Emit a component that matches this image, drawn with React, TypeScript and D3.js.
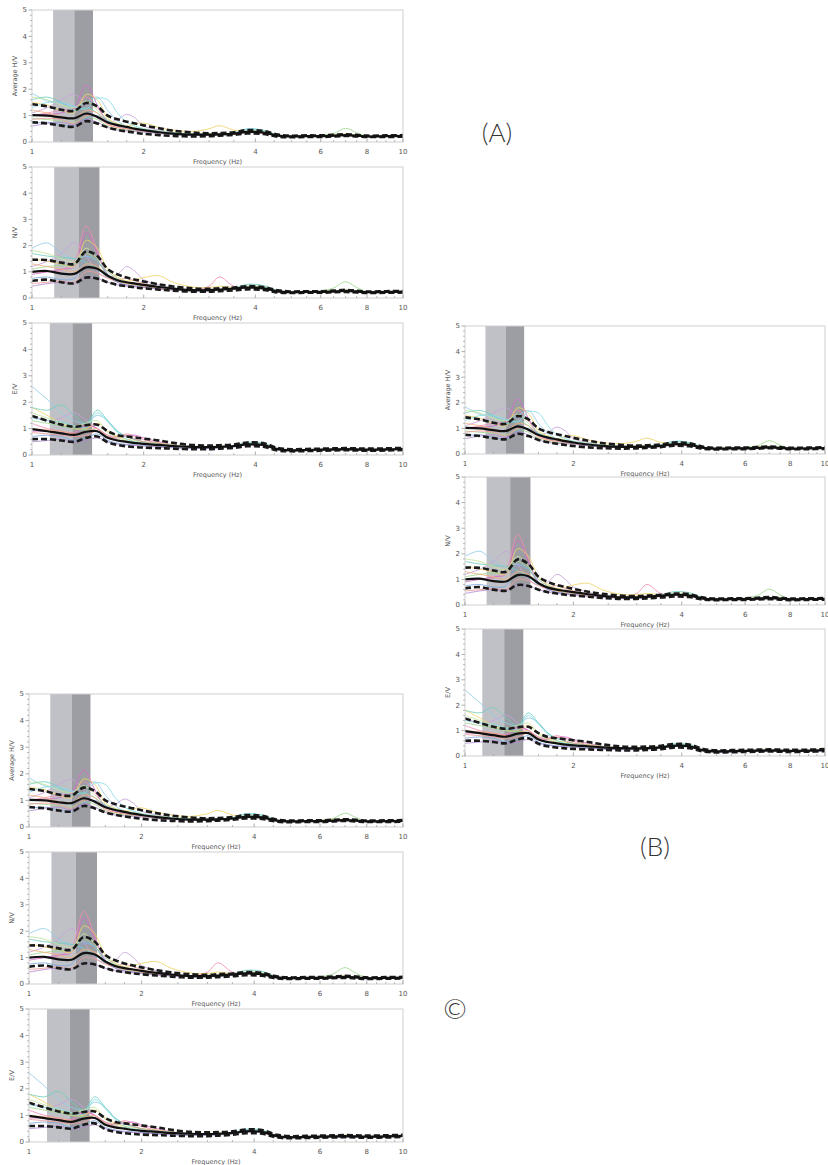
import React from "react";
import * as d3 from "d3";

// ---------- DATA ----------
const FREQS = [1, 1.1, 1.2, 1.3, 1.4, 1.5, 1.6, 1.7, 1.8, 1.9, 2, 2.2, 2.4, 2.7, 3, 3.2, 3.5, 3.8, 4.2, 4.6, 5, 5.5, 6, 6.5, 7, 7.5, 8, 9, 10];
const X_TICKS = [1, 2, 4, 6, 8, 10];
const X_MINOR = [1.2, 1.4, 1.6, 1.8, 2.5, 3, 3.5, 4.5, 5, 5.5, 6.5, 7, 7.5, 8.5, 9, 9.5];
const Y_TICKS = [0, 1, 2, 3, 4, 5];
const Y_MINOR = [0.2, 0.4, 0.6, 0.8, 1.2, 1.4, 1.6, 1.8, 2.2, 2.4, 2.6, 2.8, 3.2, 3.4, 3.6, 3.8, 4.2, 4.4, 4.6, 4.8];
const Y_TITLES = ["Average H/V", "N/V", "E/V"];
const GROUP_LABELS = ["(A)", "(B)", "©"];
const WINDOW_COLORS = ["#93cde6", "#c8a2dc", "#f08cb0", "#d66fc9", "#eed36a", "#9fd88f", "#72cfc0", "#7fa8df", "#f3b27b", "#ee9b98", "#b08ad0", "#c4e59a", "#86dde6"];

// peak-frequency bands [start, split, end] (Hz)
const HV_BAND = [1.14, 1.3, 1.46];
const NV_BAND = [1.148, 1.335, 1.52];
const EV_BAND = [1.117, 1.285, 1.452];

const HV_MEAN = [1.02, 1.0, 0.93, 0.9, 1.08, 0.95, 0.74, 0.64, 0.57, 0.5, 0.45, 0.37, 0.32, 0.28, 0.28, 0.29, 0.32, 0.38, 0.36, 0.24, 0.21, 0.22, 0.22, 0.24, 0.26, 0.24, 0.21, 0.22, 0.23];
const HV_UPPER = [1.43, 1.35, 1.22, 1.18, 1.48, 1.35, 1.0, 0.86, 0.77, 0.7, 0.63, 0.52, 0.43, 0.36, 0.33, 0.34, 0.37, 0.45, 0.42, 0.28, 0.24, 0.25, 0.25, 0.27, 0.29, 0.27, 0.24, 0.25, 0.26];
const HV_LOWER = [0.75, 0.7, 0.62, 0.58, 0.79, 0.7, 0.55, 0.46, 0.4, 0.35, 0.31, 0.26, 0.23, 0.21, 0.22, 0.24, 0.27, 0.32, 0.3, 0.2, 0.18, 0.19, 0.19, 0.21, 0.23, 0.21, 0.19, 0.19, 0.2];
const HV_WINDOWS = [
  [1.85, 1.55, 1.45, 1.35, 1.5, 1.7, 1.2, 0.8, 0.6, 0.5, 0.45, 0.38, 0.33, 0.3, 0.29, 0.3, 0.33, 0.42, 0.38, 0.24, 0.2, 0.21, 0.22, 0.24, 0.27, 0.24, 0.21, 0.22, 0.23],
  [1.1, 1.3, 1.6, 1.8, 1.4, 0.9, 0.75, 0.85, 1.05, 0.9, 0.6, 0.45, 0.35, 0.3, 0.3, 0.3, 0.32, 0.4, 0.36, 0.24, 0.21, 0.22, 0.22, 0.24, 0.26, 0.24, 0.21, 0.22, 0.23],
  [1.0, 1.1, 1.2, 1.25, 1.7, 1.3, 0.8, 0.6, 0.52, 0.48, 0.44, 0.37, 0.32, 0.28, 0.28, 0.3, 0.33, 0.38, 0.36, 0.24, 0.21, 0.22, 0.22, 0.24, 0.26, 0.24, 0.21, 0.22, 0.23],
  [1.0, 1.05, 1.1, 1.3, 2.15, 1.4, 0.75, 0.6, 0.55, 0.5, 0.45, 0.38, 0.32, 0.28, 0.28, 0.29, 0.32, 0.38, 0.36, 0.24, 0.21, 0.22, 0.22, 0.24, 0.26, 0.24, 0.21, 0.22, 0.23],
  [1.5, 1.4, 1.2, 1.1, 1.8, 1.6, 0.9, 0.7, 0.6, 0.68, 0.72, 0.55, 0.45, 0.4, 0.5, 0.62, 0.45, 0.4, 0.36, 0.25, 0.22, 0.23, 0.24, 0.27, 0.3, 0.26, 0.22, 0.22, 0.23],
  [0.9, 0.85, 0.8, 0.75, 0.95, 0.85, 0.6, 0.5, 0.45, 0.42, 0.4, 0.33, 0.3, 0.27, 0.27, 0.29, 0.31, 0.37, 0.35, 0.25, 0.22, 0.24, 0.26, 0.32, 0.52, 0.35, 0.23, 0.22, 0.23],
  [1.6, 1.7, 1.5, 1.2, 1.3, 1.1, 0.8, 0.65, 0.55, 0.5, 0.45, 0.4, 0.35, 0.3, 0.29, 0.3, 0.34, 0.48, 0.44, 0.26, 0.21, 0.22, 0.22, 0.24, 0.28, 0.25, 0.21, 0.22, 0.23],
  [0.7, 0.75, 0.65, 0.6, 0.9, 1.0, 0.8, 0.6, 0.5, 0.45, 0.42, 0.35, 0.3, 0.26, 0.26, 0.28, 0.32, 0.4, 0.38, 0.24, 0.2, 0.21, 0.21, 0.23, 0.25, 0.23, 0.2, 0.21, 0.22],
  [1.2, 1.1, 0.95, 0.9, 1.2, 1.1, 0.7, 0.55, 0.5, 0.45, 0.4, 0.34, 0.3, 0.28, 0.3, 0.33, 0.3, 0.35, 0.33, 0.23, 0.2, 0.21, 0.21, 0.23, 0.25, 0.23, 0.2, 0.21, 0.22],
  [0.85, 0.9, 0.85, 0.7, 1.0, 0.95, 0.65, 0.55, 0.5, 0.46, 0.42, 0.36, 0.31, 0.28, 0.28, 0.29, 0.32, 0.38, 0.34, 0.23, 0.2, 0.21, 0.21, 0.23, 0.25, 0.23, 0.2, 0.21, 0.22],
  [0.6, 0.7, 0.75, 0.65, 0.85, 0.75, 0.55, 0.45, 0.42, 0.4, 0.38, 0.32, 0.28, 0.26, 0.26, 0.28, 0.3, 0.36, 0.34, 0.23, 0.2, 0.21, 0.21, 0.22, 0.24, 0.22, 0.2, 0.21, 0.22],
  [1.7, 1.6, 1.4, 1.3, 1.55, 1.2, 0.85, 0.7, 0.6, 0.55, 0.5, 0.42, 0.36, 0.32, 0.31, 0.32, 0.35, 0.42, 0.4, 0.26, 0.22, 0.23, 0.23, 0.25, 0.28, 0.25, 0.22, 0.22, 0.23],
  [1.3, 1.5, 1.5, 1.35, 1.25, 1.65, 1.6, 1.1, 0.75, 0.6, 0.5, 0.4, 0.34, 0.3, 0.29, 0.3, 0.35, 0.5, 0.45, 0.26, 0.21, 0.22, 0.22, 0.24, 0.27, 0.24, 0.21, 0.22, 0.23],
];

const NV_MEAN = [1.0, 1.03, 0.93, 0.92, 1.17, 1.12, 0.85, 0.68, 0.6, 0.55, 0.5, 0.42, 0.36, 0.3, 0.3, 0.32, 0.36, 0.4, 0.37, 0.25, 0.22, 0.23, 0.23, 0.25, 0.27, 0.25, 0.22, 0.23, 0.24];
const NV_UPPER = [1.46, 1.45, 1.35, 1.3, 1.78, 1.6, 1.1, 0.9, 0.78, 0.7, 0.63, 0.52, 0.44, 0.37, 0.35, 0.37, 0.4, 0.45, 0.42, 0.29, 0.25, 0.26, 0.26, 0.28, 0.31, 0.28, 0.25, 0.26, 0.27];
const NV_LOWER = [0.65, 0.7, 0.6, 0.56, 0.78, 0.74, 0.6, 0.5, 0.45, 0.4, 0.37, 0.32, 0.28, 0.24, 0.24, 0.26, 0.29, 0.33, 0.31, 0.21, 0.19, 0.2, 0.2, 0.22, 0.23, 0.21, 0.19, 0.2, 0.21];
const NV_WINDOWS = [
  [1.9, 2.1, 1.7, 1.5, 1.6, 1.4, 1.0, 0.75, 0.6, 0.52, 0.46, 0.4, 0.34, 0.3, 0.3, 0.32, 0.36, 0.42, 0.38, 0.25, 0.22, 0.23, 0.23, 0.25, 0.27, 0.25, 0.22, 0.23, 0.24],
  [1.2, 1.4, 1.7, 2.1, 1.6, 1.0, 0.8, 0.9, 1.2, 1.0, 0.7, 0.5, 0.38, 0.32, 0.3, 0.32, 0.35, 0.42, 0.38, 0.25, 0.22, 0.23, 0.23, 0.25, 0.27, 0.25, 0.22, 0.23, 0.24],
  [1.0, 1.0, 1.05, 1.4, 2.75, 1.8, 0.8, 0.62, 0.56, 0.5, 0.46, 0.4, 0.34, 0.3, 0.45, 0.8, 0.45, 0.4, 0.36, 0.24, 0.22, 0.23, 0.23, 0.25, 0.27, 0.25, 0.22, 0.23, 0.24],
  [0.9, 1.0, 1.1, 1.2, 2.5, 1.7, 0.9, 0.6, 0.5, 0.45, 0.42, 0.36, 0.32, 0.28, 0.28, 0.3, 0.34, 0.4, 0.37, 0.24, 0.21, 0.22, 0.22, 0.24, 0.26, 0.24, 0.21, 0.22, 0.23],
  [1.5, 1.4, 1.3, 1.2, 2.2, 1.9, 1.1, 0.8, 0.65, 0.7, 0.78, 0.85, 0.6, 0.42, 0.4, 0.45, 0.4, 0.4, 0.37, 0.26, 0.23, 0.24, 0.25, 0.27, 0.3, 0.27, 0.23, 0.23, 0.24],
  [1.1, 1.2, 1.25, 1.3, 1.7, 1.4, 0.85, 0.65, 0.55, 0.5, 0.45, 0.4, 0.34, 0.3, 0.3, 0.31, 0.35, 0.45, 0.42, 0.27, 0.23, 0.24, 0.27, 0.38, 0.62, 0.4, 0.24, 0.23, 0.24],
  [1.7, 1.6, 1.55, 1.5, 1.35, 1.1, 0.8, 0.65, 0.58, 0.52, 0.48, 0.42, 0.36, 0.31, 0.3, 0.32, 0.38, 0.52, 0.48, 0.28, 0.22, 0.23, 0.23, 0.25, 0.28, 0.25, 0.22, 0.23, 0.24],
  [0.75, 0.8, 0.7, 0.75, 1.55, 1.4, 0.9, 0.6, 0.5, 0.46, 0.42, 0.36, 0.31, 0.28, 0.28, 0.3, 0.34, 0.4, 0.37, 0.24, 0.21, 0.22, 0.22, 0.24, 0.26, 0.24, 0.21, 0.22, 0.23],
  [1.3, 1.2, 1.1, 1.0, 1.3, 1.2, 0.85, 0.65, 0.55, 0.5, 0.45, 0.38, 0.33, 0.29, 0.3, 0.33, 0.34, 0.38, 0.35, 0.24, 0.21, 0.22, 0.22, 0.24, 0.26, 0.24, 0.21, 0.22, 0.23],
  [0.55, 0.6, 0.65, 0.6, 1.0, 0.95, 0.75, 0.7, 0.75, 0.65, 0.55, 0.42, 0.34, 0.29, 0.28, 0.3, 0.34, 0.4, 0.36, 0.24, 0.21, 0.22, 0.22, 0.24, 0.26, 0.24, 0.21, 0.22, 0.23],
  [0.45, 0.55, 0.6, 0.55, 0.8, 0.75, 0.6, 0.5, 0.45, 0.42, 0.4, 0.34, 0.3, 0.27, 0.27, 0.29, 0.33, 0.38, 0.35, 0.23, 0.2, 0.21, 0.21, 0.23, 0.25, 0.23, 0.2, 0.21, 0.22],
  [1.8, 1.7, 1.5, 1.4, 1.9, 1.5, 1.0, 0.75, 0.62, 0.55, 0.5, 0.42, 0.36, 0.31, 0.3, 0.32, 0.36, 0.44, 0.4, 0.26, 0.22, 0.23, 0.24, 0.26, 0.3, 0.26, 0.22, 0.23, 0.24],
];

const EV_MEAN = [0.98, 0.9, 0.82, 0.76, 0.88, 0.9, 0.65, 0.55, 0.5, 0.45, 0.42, 0.38, 0.34, 0.31, 0.3, 0.31, 0.34, 0.4, 0.38, 0.22, 0.18, 0.19, 0.2, 0.21, 0.22, 0.21, 0.2, 0.21, 0.23];
const EV_UPPER = [1.48, 1.3, 1.15, 1.07, 1.13, 1.15, 0.9, 0.75, 0.7, 0.66, 0.62, 0.55, 0.46, 0.38, 0.36, 0.37, 0.4, 0.47, 0.45, 0.27, 0.22, 0.23, 0.24, 0.25, 0.26, 0.25, 0.24, 0.25, 0.27];
const EV_LOWER = [0.6, 0.6, 0.55, 0.5, 0.65, 0.7, 0.48, 0.38, 0.33, 0.3, 0.28, 0.26, 0.24, 0.22, 0.22, 0.24, 0.27, 0.33, 0.31, 0.17, 0.14, 0.15, 0.16, 0.17, 0.18, 0.17, 0.16, 0.17, 0.19];
const EV_WINDOWS = [
  [2.6, 2.1, 1.6, 1.3, 1.2, 1.5, 1.3, 0.9, 0.7, 0.58, 0.5, 0.42, 0.36, 0.31, 0.3, 0.31, 0.35, 0.45, 0.42, 0.23, 0.18, 0.19, 0.2, 0.21, 0.22, 0.21, 0.2, 0.21, 0.23],
  [1.5, 1.3, 1.4, 1.6, 1.3, 1.0, 0.75, 0.6, 0.52, 0.47, 0.43, 0.38, 0.34, 0.3, 0.3, 0.31, 0.35, 0.44, 0.4, 0.23, 0.18, 0.19, 0.2, 0.21, 0.22, 0.21, 0.2, 0.21, 0.23],
  [1.2, 1.0, 0.9, 0.85, 1.1, 1.0, 0.75, 0.7, 0.8, 0.7, 0.58, 0.45, 0.36, 0.31, 0.3, 0.31, 0.34, 0.4, 0.38, 0.22, 0.18, 0.19, 0.2, 0.21, 0.22, 0.21, 0.2, 0.21, 0.23],
  [0.9, 0.9, 0.85, 0.8, 1.15, 1.0, 0.7, 0.65, 0.72, 0.75, 0.65, 0.5, 0.38, 0.32, 0.31, 0.32, 0.35, 0.42, 0.38, 0.22, 0.18, 0.19, 0.2, 0.21, 0.22, 0.21, 0.2, 0.21, 0.23],
  [1.8, 1.5, 1.2, 1.0, 1.0, 1.2, 0.9, 0.7, 0.6, 0.55, 0.5, 0.45, 0.38, 0.32, 0.32, 0.34, 0.36, 0.4, 0.38, 0.22, 0.19, 0.2, 0.21, 0.23, 0.25, 0.23, 0.21, 0.21, 0.23],
  [1.3, 1.2, 1.1, 1.0, 0.95, 0.9, 0.7, 0.55, 0.5, 0.46, 0.42, 0.37, 0.33, 0.3, 0.3, 0.31, 0.34, 0.42, 0.4, 0.23, 0.18, 0.19, 0.21, 0.23, 0.26, 0.23, 0.2, 0.21, 0.23],
  [1.8, 1.7, 1.9, 1.5, 1.2, 1.7, 1.3, 0.9, 0.7, 0.58, 0.5, 0.42, 0.36, 0.31, 0.3, 0.31, 0.35, 0.48, 0.45, 0.24, 0.18, 0.19, 0.2, 0.21, 0.22, 0.21, 0.2, 0.21, 0.23],
  [0.7, 0.75, 0.7, 0.55, 0.65, 0.8, 0.55, 0.45, 0.4, 0.38, 0.36, 0.32, 0.28, 0.26, 0.26, 0.28, 0.32, 0.42, 0.38, 0.2, 0.16, 0.17, 0.18, 0.19, 0.2, 0.19, 0.18, 0.19, 0.21],
  [1.0, 0.95, 0.9, 0.8, 0.9, 1.0, 0.7, 0.58, 0.5, 0.46, 0.42, 0.37, 0.33, 0.3, 0.3, 0.31, 0.34, 0.4, 0.38, 0.22, 0.18, 0.19, 0.2, 0.21, 0.22, 0.21, 0.2, 0.21, 0.23],
  [0.85, 0.8, 0.75, 0.7, 0.75, 0.9, 0.65, 0.7, 0.75, 0.6, 0.5, 0.42, 0.35, 0.31, 0.3, 0.31, 0.34, 0.4, 0.38, 0.22, 0.18, 0.19, 0.2, 0.21, 0.22, 0.21, 0.2, 0.21, 0.23],
  [0.5, 0.55, 0.6, 0.5, 0.55, 0.65, 0.5, 0.42, 0.38, 0.36, 0.34, 0.3, 0.27, 0.25, 0.25, 0.27, 0.3, 0.38, 0.35, 0.19, 0.15, 0.16, 0.17, 0.18, 0.19, 0.18, 0.17, 0.18, 0.2],
  [1.6, 1.4, 1.2, 1.1, 1.2, 1.3, 0.85, 0.65, 0.55, 0.5, 0.46, 0.4, 0.35, 0.31, 0.3, 0.31, 0.35, 0.42, 0.4, 0.23, 0.18, 0.19, 0.2, 0.21, 0.22, 0.21, 0.2, 0.21, 0.23],
  [1.4, 1.3, 1.25, 1.1, 1.05, 1.6, 1.25, 0.85, 0.6, 0.5, 0.45, 0.4, 0.35, 0.31, 0.3, 0.31, 0.35, 0.43, 0.4, 0.23, 0.18, 0.19, 0.2, 0.21, 0.22, 0.21, 0.2, 0.21, 0.23],
];

const SERIES = [
  { mean: HV_MEAN, upper: HV_UPPER, lower: HV_LOWER, windows: HV_WINDOWS, band: HV_BAND },
  { mean: NV_MEAN, upper: NV_UPPER, lower: NV_LOWER, windows: NV_WINDOWS, band: NV_BAND },
  { mean: EV_MEAN, upper: EV_UPPER, lower: EV_LOWER, windows: EV_WINDOWS, band: EV_BAND },
];

// ---------- LAYOUT ----------
const GROUPS = [
  { x0: 32, x1: 403, panels: [[10, 142], [167, 298], [323, 455]], label: { x: 497, y: 142 } },
  { x0: 465, x1: 825, panels: [[326, 454], [477, 605], [629, 756]], label: { x: 655, y: 856 } },
  { x0: 29, x1: 403, panels: [[694, 827], [852, 984], [1009, 1142]], label: { x: 455, y: 1019 } },
];

const FONT = "'DejaVu Sans', Verdana, sans-serif";

function Panel({ x0, x1, yTop, yBottom, kind, id }: any) {
  const s = SERIES[kind];
  const xs = d3.scaleLog().domain([1, 10]).range([x0, x1]);
  const ys = d3.scaleLinear().domain([0, 5]).range([yBottom, yTop]);
  const line = d3
    .line<number>()
    .x((_, i) => xs(FREQS[i]))
    .y((d) => ys(d))
    .curve(d3.curveCatmullRom.alpha(0.5));
  const clipId = `clip-${id}`;
  return (
    <g>
      <defs>
        <clipPath id={clipId}>
          <rect x={x0} y={yTop} width={x1 - x0} height={yBottom - yTop} />
        </clipPath>
      </defs>
      <rect x={x0} y={yTop} width={x1 - x0} height={yBottom - yTop} fill="#fff" />
      <rect x={xs(s.band[0])} y={yTop} width={xs(s.band[1]) - xs(s.band[0])} height={yBottom - yTop} fill="#bfc1c6" />
      <rect x={xs(s.band[1])} y={yTop} width={xs(s.band[2]) - xs(s.band[1])} height={yBottom - yTop} fill="#9c9ea4" />
      <g clipPath={`url(#${clipId})`}>
        {s.windows.map((w: number[], i: number) => (
          <path key={i} d={line(w) || ""} fill="none" stroke={WINDOW_COLORS[i % WINDOW_COLORS.length]} strokeWidth={1} strokeOpacity={0.85} />
        ))}
        <path d={line(s.upper) || ""} fill="none" stroke="#1a1a1a" strokeWidth={2.6} strokeDasharray="6,3" />
        <path d={line(s.lower) || ""} fill="none" stroke="#1a1a1a" strokeWidth={2.6} strokeDasharray="6,3" />
        <path d={line(s.mean) || ""} fill="none" stroke="#111" strokeWidth={2.2} />
      </g>
      <rect x={x0} y={yTop} width={x1 - x0} height={yBottom - yTop} fill="none" stroke="#cfcfcf" strokeWidth={1} />
      {Y_MINOR.map((v) => (
        <line key={"ym" + v} x1={x0 - 2} x2={x0} y1={ys(v)} y2={ys(v)} stroke="#aaa" strokeWidth={0.8} />
      ))}
      {Y_TICKS.map((v) => (
        <g key={"y" + v}>
          <line x1={x0 - 3.5} x2={x0} y1={ys(v)} y2={ys(v)} stroke="#999" strokeWidth={0.8} />
          <text x={x0 - 5} y={ys(v)} dy="0.35em" textAnchor="end" fontSize={7} fill="#555" fontFamily={FONT}>
            {v}
          </text>
        </g>
      ))}
      {X_MINOR.map((v) => (
        <line key={"xm" + v} x1={xs(v)} x2={xs(v)} y1={yBottom} y2={yBottom - 2} stroke="#aaa" strokeWidth={0.8} />
      ))}
      {X_TICKS.map((v) => (
        <g key={"x" + v}>
          <line x1={xs(v)} x2={xs(v)} y1={yBottom} y2={yBottom - 3.5} stroke="#999" strokeWidth={0.8} />
          <text x={xs(v)} y={yBottom + 11.5} textAnchor="middle" fontSize={7} fill="#555" fontFamily={FONT}>
            {v}
          </text>
        </g>
      ))}
      <text x={(x0 + x1) / 2} y={yBottom + 22} textAnchor="middle" fontSize={6.5} fill="#555" fontFamily={FONT}>
        Frequency (Hz)
      </text>
      <text
        transform={`translate(${x0 - 15},${(yTop + yBottom) / 2}) rotate(-90)`}
        textAnchor="middle"
        fontSize={6.5}
        fill="#555"
        fontFamily={FONT}
      >
        {Y_TITLES[kind]}
      </text>
    </g>
  );
}

export default function App() {
  return (
    <svg
      width={828}
      height={1165}
      viewBox="0 0 828 1165"
      style={{ position: "absolute", left: 0, top: 0, background: "#fff" }}
    >
      <rect x={0} y={0} width={828} height={1165} fill="#fff" />
      {GROUPS.map((g, gi) => (
        <g key={gi}>
          {g.panels.map((p, pi) => (
            <Panel key={pi} id={`${gi}-${pi}`} x0={g.x0} x1={g.x1} yTop={p[0]} yBottom={p[1]} kind={pi} />
          ))}
          <text
            x={g.label.x}
            y={g.label.y}
            textAnchor="middle"
            fontSize={gi === 2 ? 28 : 26}
            fontWeight={300}
            fill="#333"
            fontFamily="Lato, 'Open Sans', 'Noto Sans', sans-serif"
          >
            {GROUP_LABELS[gi]}
          </text>
        </g>
      ))}
    </svg>
  );
}
